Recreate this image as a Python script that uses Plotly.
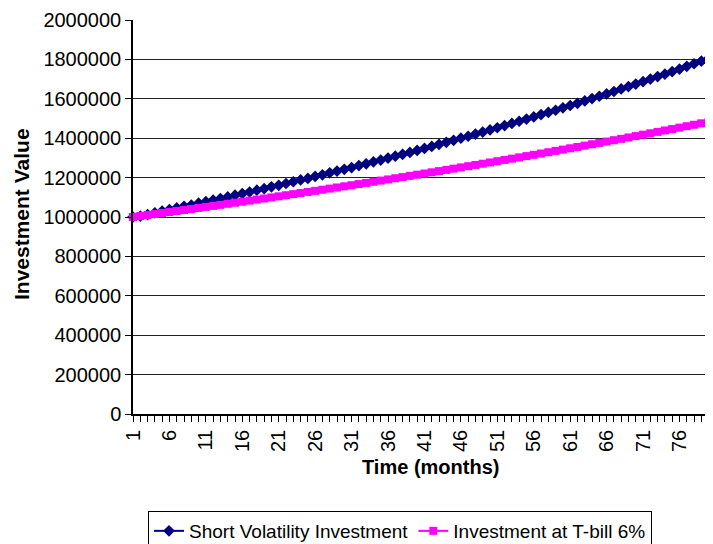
import plotly.graph_objects as go

# ---- data ----
short_vol = [
    1000000, 1004000, 1012000, 1021000, 1030000, 1038000, 1046000, 1054000, 1061000, 1070000,
    1078000, 1086000, 1094000, 1102000, 1111000, 1119000, 1127000, 1136000, 1144000, 1153000,
    1161000, 1170000, 1179000, 1188000, 1196000, 1206000, 1214000, 1224000, 1233000, 1242000,
    1251000, 1261000, 1270000, 1280000, 1289000, 1299000, 1309000, 1318000, 1328000, 1338000,
    1348000, 1358000, 1369000, 1379000, 1389000, 1400000, 1410000, 1421000, 1431000, 1442000,
    1453000, 1464000, 1475000, 1486000, 1497000, 1508000, 1520000, 1531000, 1542000, 1554000,
    1566000, 1577000, 1589000, 1601000, 1613000, 1625000, 1637000, 1650000, 1662000, 1675000,
    1687000, 1700000, 1713000, 1725000, 1738000, 1751000, 1765000, 1778000, 1791000, 1805000,
    0,
]
tbill = [
    1000000, 1005000, 1010025, 1015075, 1020151, 1025251, 1030378, 1035529, 1040707, 1045911,
    1051140, 1056396, 1061678, 1066986, 1072321, 1077683, 1083071, 1088487, 1093929, 1099399,
    1104896, 1110420, 1115972, 1121552, 1127160, 1132796, 1138460, 1144152, 1149873, 1155622,
    1161400, 1167207, 1173043, 1178908, 1184803, 1190727, 1196681, 1202664, 1208677, 1214721,
    1220794, 1226898, 1233033, 1239198, 1245394, 1251621, 1257879, 1264168, 1270489, 1276842,
    1283226, 1289642, 1296090, 1302571, 1309083, 1315629, 1322207, 1328818, 1335462, 1342139,
    1348850, 1355594, 1362372, 1369184, 1376030, 1382910, 1389825, 1396774, 1403758, 1410777,
    1417831, 1424920, 1432044, 1439204, 1446401, 1453633, 1460901, 1468205, 1475546, 1482924,
    1490339,
]
months = list(range(1, len(short_vol) + 1))
x_tick_vals = list(range(1, 81))
x_tick_text = [str(m) if (m - 1) % 5 == 0 else "" for m in x_tick_vals]
y_tick_vals = list(range(0, 2000001, 200000))
y_tick_text = [str(v) for v in y_tick_vals]

FONT = "Arial, Liberation Sans, sans-serif"
# the page body adds an 8px offset; figure coords = screen coords - 8
OFF = 8
W, H = 713 - OFF, 544 - OFF
L, R, T, B = 133 - OFF, 0, 20 - OFF, H - (414 - OFF)
PW, PH = W - L - R, H - T - B

fig = go.Figure()
fig.add_trace(go.Scatter(
    x=months, y=short_vol, name="Short Volatility Investment",
    mode="lines+markers", cliponaxis=False,
    line=dict(color="#000080", width=2),
    marker=dict(symbol="diamond", size=9, color="#000080"),
))
fig.add_trace(go.Scatter(
    x=months, y=tbill, name="Investment at T-bill 6%",
    mode="lines+markers", cliponaxis=False,
    line=dict(color="#FF00FF", width=2),
    marker=dict(symbol="square", size=8, color="#FF00FF"),
))

fig.update_layout(
    width=W, height=H,
    margin=dict(l=L, r=R, t=T, b=B, autoexpand=False),
    paper_bgcolor="white", plot_bgcolor="white",
    font=dict(family=FONT, color="black", size=18),
    showlegend=True,
    legend=dict(
        orientation="h", xref="container", yref="container",
        x=(148 - OFF) / W, xanchor="left", y=(H - (511 - OFF)) / H, yanchor="top",
        bordercolor="black", borderwidth=1, bgcolor="white",
        font=dict(size=19, family=FONT, color="black"),
        itemwidth=30, tracegroupgap=0,
    ),
    xaxis=dict(
        range=[1, 80.6], tickmode="array", tickvals=x_tick_vals, ticktext=x_tick_text,
        tickangle=-90, ticks="outside", ticklen=6, tickcolor="black",
        showline=True, linecolor="black", linewidth=1.5, showgrid=False, zeroline=False,
        tickfont=dict(size=20, family=FONT, color="black"), automargin=False,
    ),
    yaxis=dict(
        range=[0, 2000000], tickmode="array", tickvals=y_tick_vals, ticktext=y_tick_text,
        ticks="outside", ticklen=6, tickcolor="black",
        showline=True, linecolor="black", linewidth=1.5,
        showgrid=True, gridcolor="#222222", gridwidth=1.2, zeroline=False,
        tickfont=dict(size=20, family=FONT, color="black"), automargin=False,
    ),
    annotations=[
        dict(text="<b>Time (months)</b>", xref="paper", yref="paper",
             x=(430 - 133) / PW, y=(414 - 467) / PH, xanchor="center", yanchor="middle",
             showarrow=False, font=dict(size=20, family=FONT, color="black")),
        dict(text="<b>Investment Value</b>", xref="paper", yref="paper",
             x=(21 - 133) / PW, y=(414 - 214) / PH, xanchor="center", yanchor="middle",
             textangle=-90, showarrow=False, font=dict(size=21, family=FONT, color="black")),
    ],
)

fig.write_html("out.html")
